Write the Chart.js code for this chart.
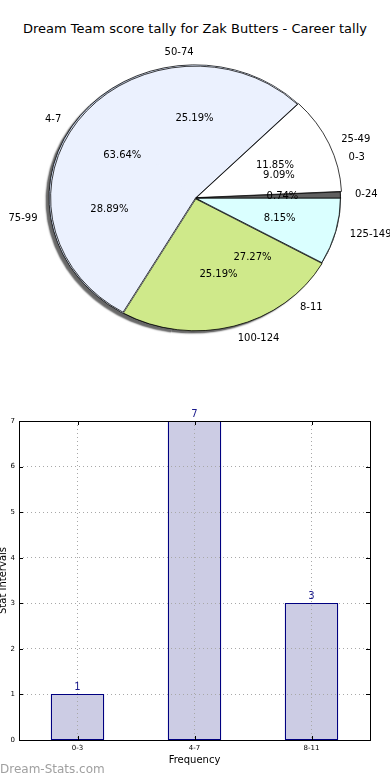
<!DOCTYPE html>
<html>
<head>
<meta charset="utf-8">
<script src="https://cdn.jsdelivr.net/npm/chart.js@4.4.1/dist/chart.umd.min.js"></script>
<style>
  html, body { margin: 0; padding: 0; background: #ffffff; }
  body { width: 390px; height: 780px; position: relative; overflow: hidden; font-family: "DejaVu Sans", sans-serif; }
  canvas { position: absolute; left: 0; }
  #title { position: absolute; left: 0; top: 21px; width: 390px; text-align: center; font-size: 13px; color: #000; }
  #wm { position: absolute; left: 0; top: 762px; font-size: 12px; color: #a0a0a0; }
  #err { position: absolute; left: 0; top: 360px; font-size: 9px; color: red; }
</style>
</head>
<body>
<div id="title">Dream Team score tally for Zak Butters - Career tally</div>
<canvas id="pieA" width="390" height="370" style="top:0"></canvas>
<canvas id="pieB" width="390" height="370" style="top:0"></canvas>
<canvas id="bar" width="390" height="400" style="top:380px"></canvas>
<div id="wm">Dream-Stats.com</div>
<div id="err"></div>
<script>
// ---------------- DATA ----------------
const pieACategories = ['0-3', '4-7', '8-11'];
const pieAValues = [1, 7, 3];
const pieAColors = ['#ffffff', '#c6d6f2', '#c6d6f2'];
const pieAOffsets = [0, 3, 0];

const pieBCategories = ['0-24', '25-49', '50-74', '75-99', '100-124', '125-149'];
const pieBValues = [1, 16, 34, 39, 34, 11];
const pieBColors = ['#606060', '#ffffff', '#ebf1fe', '#ebf1fe', '#cfe98a', '#daffff'];
const pieBOffsets = [0, 4, 0, 0, 4, 0];
const pieBMerged = [2, 3]; // slices drawn without a dividing line between them

const barCategories = ['0-3', '4-7', '8-11'];
const barValues = [1, 7, 3];
const yTickMax = 7;

// ---------------- PIE HELPERS ----------------
const CX = 195.5, CY = 198, RX = 145, RY = 132;
const FONT = '"DejaVu Sans", sans-serif';
function rev(a) { return a.slice().reverse(); }
function report(e) { document.getElementById('err').textContent += ' ' + (e && e.message ? e.message : e); }

function drawLabels(ctx, chart, cats, vals) {
  const meta = chart.getDatasetMeta(0);
  const total = vals.reduce((a, b) => a + b, 0);
  const n = cats.length;
  ctx.save();
  ctx.font = '10px ' + FONT;
  ctx.fillStyle = '#000';
  ctx.textBaseline = 'middle';
  meta.data.forEach((arc, i) => {
    const idx = n - 1 - i;
    const mid = (arc.startAngle + arc.endAngle) / 2;
    const c = Math.cos(mid), s = Math.sin(mid);
    ctx.textAlign = 'center';
    ctx.fillText((vals[idx] / total * 100).toFixed(2) + '%', CX + c * RX * 0.6, CY + s * RY * 0.6);
    ctx.textAlign = c >= 0 ? 'left' : 'right';
    ctx.fillText(cats[idx], CX + c * RX * 1.1, CY + s * RY * 1.1);
  });
  ctx.restore();
}

let chartA = null;

function ellipsePlugin(withShadow, merged, n) {
  return {
    id: 'ellipse',
    beforeDatasetsDraw(chart) {
      const ctx = chart.ctx;
      const arc = chart.getDatasetMeta(0).data[0];
      ctx.save();
      ctx.translate(arc.x, arc.y);
      ctx.scale(1, RY / RX);
      ctx.translate(-arc.x, -arc.y);
      if (withShadow) {
        ctx.shadowColor = 'rgba(0,0,0,0.6)';
        ctx.shadowOffsetX = -3;
        ctx.shadowOffsetY = 3;
        ctx.shadowBlur = 1.5;
      }
    },
    afterDatasetsDraw(chart) {
      const ctx = chart.ctx;
      try {
        if (merged && merged.length) {
          const data = chart.getDatasetMeta(0).data;
          const els = merged.map(k => data[n - 1 - k]);
          const start = Math.min.apply(null, els.map(e => e.startAngle));
          const end = Math.max.apply(null, els.map(e => e.endAngle));
          const e0 = els[0];
          ctx.beginPath();
          ctx.moveTo(e0.x, e0.y);
          ctx.arc(e0.x, e0.y, e0.outerRadius, start, end);
          ctx.closePath();
          ctx.lineWidth = 0.8;
          ctx.strokeStyle = '#000';
          ctx.stroke();
        }
      } catch (e) { report(e); }
      ctx.restore();
    }
  };
}

function makePie(id, cats, vals, colors, offsets, shadow, merged, extraLabels) {
  const maxOff = Math.max.apply(null, offsets);
  const s = 2 * RX + 1 + maxOff;
  const left = CX - s / 2, top = CY - s / 2;
  const n = cats.length;
  const isMerged = k => merged && merged.indexOf(k) >= 0;
  const borderW = cats.map((c, k) => isMerged(k) ? 1.2 : 0.8);
  const borderC = cats.map((c, k) => isMerged(k) ? colors[k] : '#000000');
  return new Chart(document.getElementById(id), {
    type: 'pie',
    data: {
      labels: rev(cats),
      datasets: [{
        data: rev(vals),
        backgroundColor: rev(colors),
        borderColor: rev(borderC),
        borderWidth: rev(borderW),
        offset: rev(offsets),
        hoverOffset: 0,
        clip: false
      }]
    },
    options: {
      responsive: false,
      animation: false,
      devicePixelRatio: 1,
      rotation: 90,
      layout: { padding: { left: left, top: top, right: 390 - left - s, bottom: 370 - top - s } },
      plugins: { legend: { display: false }, tooltip: { enabled: false }, title: { display: false } },
      events: []
    },
    plugins: [ellipsePlugin(shadow, merged, n), {
      id: 'labels',
      afterDraw(chart) {
        try {
          if (extraLabels) drawLabels(chart.ctx, extraLabels.chart, extraLabels.cats, extraLabels.vals);
          if (extraLabels) drawLabels(chart.ctx, chart, cats, vals);
        } catch (e) { report(e); }
      }
    }]
  });
}

try {
  chartA = makePie('pieA', pieACategories, pieAValues, pieAColors, pieAOffsets, true, null, null);
  makePie('pieB', pieBCategories, pieBValues, pieBColors, pieBOffsets, false, pieBMerged,
          { chart: chartA, cats: pieACategories, vals: pieAValues });
} catch (e) { report(e); }

// ---------------- BAR CHART ----------------
const barDecor = {
  id: 'barDecor',
  afterDraw(chart) {
    const ctx = chart.ctx;
    try {
      const a = chart.chartArea;
      ctx.save();
      const bars = chart.getDatasetMeta(0).data;
      // re-stroke bar outlines above the dotted grid
      ctx.strokeStyle = '#000080';
      ctx.lineWidth = 1;
      for (let i = 0; i < bars.length; i++) {
        const b = bars[i];
        const l = Math.round(b.x - b.width / 2), r = Math.round(b.x + b.width / 2);
        const t = Math.round(b.y), btm = Math.round(b.base);
        ctx.strokeRect(l + 0.5, t + 0.5, r - l - 1, btm - t - 1);
      }
      ctx.strokeStyle = '#000';
      ctx.strokeRect(Math.round(a.left) + 0.5, Math.round(a.top) + 0.5, Math.round(a.right - a.left), Math.round(a.bottom - a.top));
      const ys = chart.scales.y, xs = chart.scales.x;
      for (let v = 0; v <= yTickMax; v++) {
        const y = Math.round(ys.getPixelForValue(v)) + 0.5;
        ctx.beginPath();
        ctx.moveTo(a.left, y); ctx.lineTo(a.left + 4, y);
        ctx.moveTo(a.right, y); ctx.lineTo(a.right - 4, y);
        ctx.stroke();
      }
      for (let i = 0; i < barCategories.length; i++) {
        const x = Math.round(xs.getPixelForValue(i)) + 0.5;
        ctx.beginPath();
        ctx.moveTo(x, a.bottom); ctx.lineTo(x, a.bottom - 4);
        ctx.moveTo(x, a.top); ctx.lineTo(x, a.top + 4);
        ctx.stroke();
      }
      ctx.fillStyle = '#1a1a8c';
      ctx.font = '10px ' + FONT;
      ctx.textAlign = 'center';
      ctx.textBaseline = 'bottom';
      for (let i = 0; i < bars.length; i++) {
        ctx.fillText(String(barValues[i]), bars[i].x, bars[i].y - 2);
      }
      ctx.restore();
    } catch (e) { report(e); }
  }
};

try {
new Chart(document.getElementById('bar'), {
  type: 'bar',
  data: {
    labels: barCategories,
    datasets: [{
      data: barValues,
      backgroundColor: '#cccce4',
      borderColor: '#000080',
      borderWidth: 0,
      barThickness: 53,
      categoryPercentage: 1.0
    }]
  },
  options: {
    responsive: false,
    animation: false,
    devicePixelRatio: 1,
    layout: { padding: { left: 0, right: 20, top: 41, bottom: 0 } },
    plugins: { legend: { display: false }, tooltip: { enabled: false } },
    events: [],
    scales: {
      x: {
        grid: { offset: false, color: '#a8a8a8', drawTicks: false, lineWidth: 1, z: 1 },
        border: { display: false, dash: [1, 3] },
        ticks: { font: { family: FONT, size: 7 }, color: '#000', padding: 4 },
        title: { display: true, text: 'Frequency', font: { family: FONT, size: 10 }, color: '#000', padding: { top: 0, bottom: 14 } },
        afterFit(scale) { scale.height = 40; }
      },
      y: {
        min: 0, max: yTickMax,
        grid: { color: '#a8a8a8', drawTicks: false, lineWidth: 1, z: 1 },
        border: { display: false, dash: [1, 3] },
        ticks: { stepSize: 1, font: { family: FONT, size: 7 }, color: '#000', padding: 4 },
        title: { display: true, text: 'Stat Intervals', font: { family: FONT, size: 10 }, color: '#000', padding: { top: -3, bottom: 0 } },
        afterFit(scale) { scale.width = 19; }
      }
    }
  },
  plugins: [barDecor]
});
} catch (e) { report(e); }
</script>
</body>
</html>
